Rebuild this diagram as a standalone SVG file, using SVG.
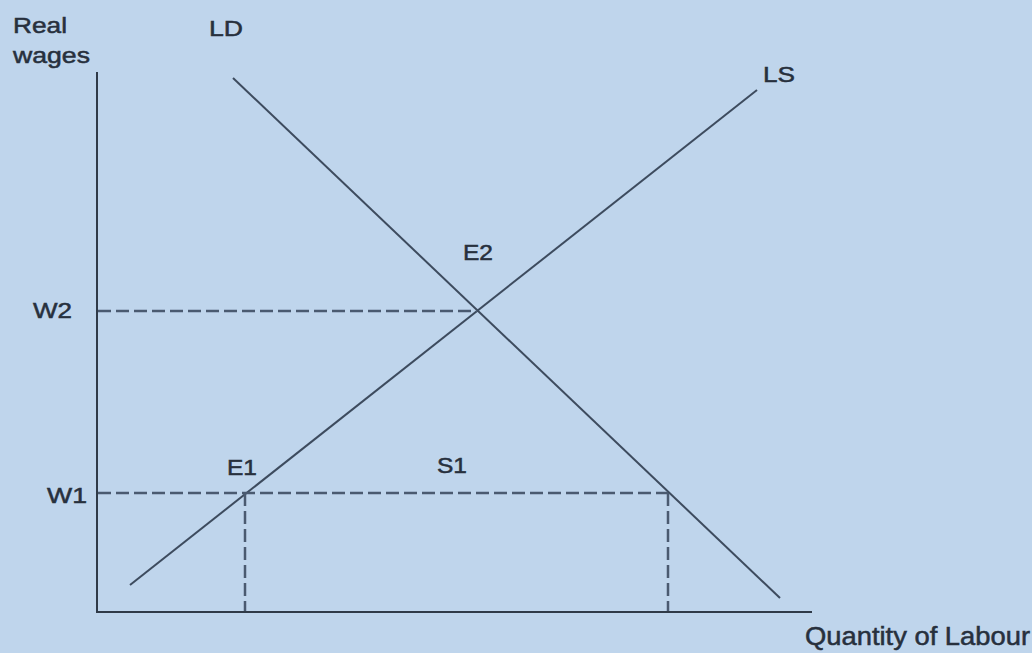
<svg xmlns="http://www.w3.org/2000/svg" width="1032" height="653" viewBox="0 0 1032 653">
<style>
.bg{fill:#bfd5ec}
.ax{stroke:#2f3a48;stroke-width:2;fill:none}
.cv{stroke:#3d4b5e;stroke-width:2;fill:none}
.da{stroke:#4a5a70;stroke-width:2.5;stroke-dasharray:13 5;fill:none}
.t{font-family:"Liberation Sans",Arial,sans-serif;font-size:22px;fill:#27303d;stroke:#27303d;stroke-width:0.5}
</style>
<rect class="bg" x="0" y="0" width="1032" height="653"/>
<g id="axes">
<polyline class="ax" points="97,72 97,612 812,612"/>
</g>
<g id="connectors">
<line id="LD-line" class="cv" x1="233" y1="78" x2="780" y2="598"/>
<line id="LS-line" class="cv" x1="130" y1="585" x2="757" y2="90"/>
<line class="da" x1="98" y1="311" x2="477" y2="311"/>
<line class="da" x1="98" y1="493" x2="668" y2="493"/>
<line class="da" x1="245" y1="493" x2="245" y2="611"/>
<line class="da" x1="668" y1="493" x2="668" y2="611"/>
</g>
<g id="labels">
<text class="t" x="13" y="33" textLength="54" lengthAdjust="spacingAndGlyphs">Real</text>
<text class="t" x="13" y="63" textLength="77" lengthAdjust="spacingAndGlyphs">wages</text>
<text class="t" x="209" y="36" textLength="34" lengthAdjust="spacingAndGlyphs">LD</text>
<text class="t" x="763" y="82" textLength="32" lengthAdjust="spacingAndGlyphs">LS</text>
<text class="t" x="463" y="260" textLength="30" lengthAdjust="spacingAndGlyphs">E2</text>
<text class="t" x="33" y="318" textLength="39" lengthAdjust="spacingAndGlyphs">W2</text>
<text class="t" x="227" y="475" textLength="30" lengthAdjust="spacingAndGlyphs">E1</text>
<text class="t" x="437" y="473" textLength="30" lengthAdjust="spacingAndGlyphs">S1</text>
<text class="t" x="47" y="503" textLength="40" lengthAdjust="spacingAndGlyphs">W1</text>
<text class="t" x="805" y="645" style="font-size:25px" textLength="225" lengthAdjust="spacingAndGlyphs">Quantity of Labour</text>
</g>
</svg>
